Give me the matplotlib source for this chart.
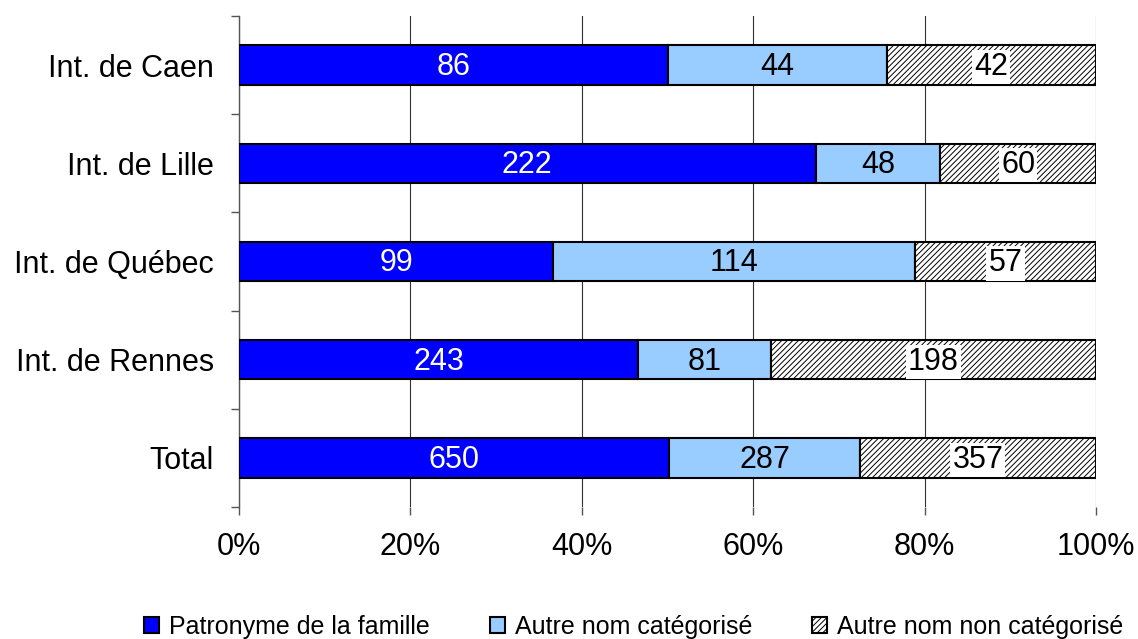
import matplotlib
matplotlib.use("Agg")
import matplotlib.pyplot as plt
import numpy as np

plt.rcParams['font.family'] = ['Liberation Sans', 'DejaVu Sans']
plt.rcParams['hatch.color'] = '#777777'
plt.rcParams['hatch.linewidth'] = 0.7

categories = ["Int. de Caen", "Int. de Lille", "Int. de Québec", "Int. de Rennes", "Total"]
patronyme = [86, 222, 99, 243, 650]
autre_cat = [44, 48, 114, 81, 287]
autre_non = [42, 60, 57, 198, 357]
series_names = ["Patronyme de la famille", "Autre nom catégorisé", "Autre nom non catégorisé"]

fig = plt.figure(figsize=(11.38, 6.39), dpi=100)
ax = fig.add_axes([239/1138, 1-507/639, (1096-239)/1138, (507-16)/639])

y = np.arange(len(categories))
tot = np.array(patronyme) + np.array(autre_cat) + np.array(autre_non)
p1 = np.array(patronyme) / tot * 100
p2 = np.array(autre_cat) / tot * 100
p3 = np.array(autre_non) / tot * 100

h = 0.4
b1 = ax.barh(y, p1, height=h, color='#0000FF', edgecolor='black', linewidth=1.5, label=series_names[0], zorder=3)
b2 = ax.barh(y, p2, left=p1, height=h, color='#99CCFF', edgecolor='black', linewidth=1.5, label=series_names[1], zorder=3)
b3 = ax.barh(y, p3, left=p1 + p2, height=h, color='white', edgecolor='black', linewidth=1.5, hatch='//////', label=series_names[2], zorder=3)

fs = 22
for i in range(len(categories)):
    ax.text(p1[i] / 2, y[i] + 0.02, str(patronyme[i]), ha='center', va='center', color='white', fontsize=fs, zorder=5)
    ax.text(p1[i] + p2[i] / 2, y[i] + 0.02, str(autre_cat[i]), ha='center', va='center', color='black', fontsize=fs, zorder=5)
    ax.text(p1[i] + p2[i] + p3[i] / 2, y[i] + 0.02, str(autre_non[i]), ha='center', va='center', color='black', fontsize=fs, zorder=5,
            bbox=dict(facecolor='white', edgecolor='none', pad=1.5))

ax.set_xlim(0, 100)
ax.set_ylim(len(categories) - 0.5, -0.5)
ax.set_xticks([0, 20, 40, 60, 80, 100])
ax.set_xticklabels([f"{v}%" for v in [0, 20, 40, 60, 80, 100]], fontsize=fs)
ax.set_yticks(y)
ax.set_yticklabels(categories, fontsize=fs)
ax.tick_params(axis='y', which='major', length=0, pad=18)
ax.set_yticks(np.arange(-0.5, len(categories), 1), minor=True)
ax.tick_params(axis='y', which='minor', length=6, width=1, color='#555555', direction='out')
ax.tick_params(axis='x', which='major', length=6, width=1, color='#555555', direction='out', pad=12)
ax.xaxis.grid(True, color='#333333', linewidth=0.8, zorder=0)
ax.set_axisbelow(True)
for s in ['top', 'right', 'bottom']:
    ax.spines[s].set_visible(False)
ax.spines['left'].set_color('#555555')
ax.spines['left'].set_linewidth(1)

leg = fig.legend(handles=[b1, b2, b3], labels=series_names, loc='lower center', bbox_to_anchor=(0.557, -0.035),
                 ncol=3, frameon=False, fontsize=18, handlelength=0.6, handleheight=0.6, columnspacing=2.4, handletextpad=0.4)

fig.savefig("out.png", dpi=100)
